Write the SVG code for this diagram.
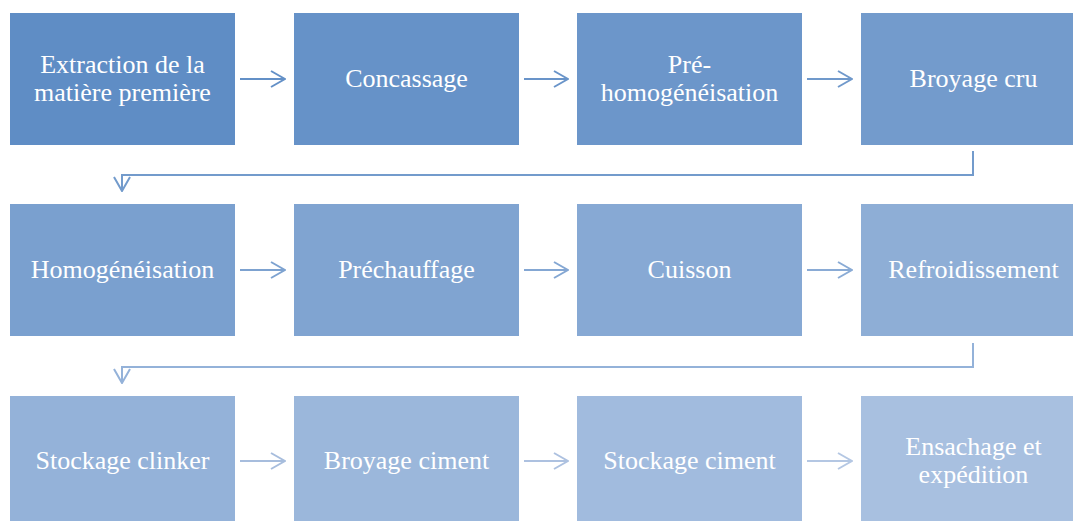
<svg xmlns="http://www.w3.org/2000/svg" width="1073" height="521" viewBox="0 0 1073 521">
<style>
.c{fill:none;stroke-width:2}
</style>
<defs>
<marker id="ah" viewBox="0 0 16 18" refX="15" refY="9" markerWidth="16" markerHeight="18" markerUnits="userSpaceOnUse" orient="auto"><path d="M1,1 L15,9 L1,17" fill="none" stroke="context-stroke" stroke-width="2"/></marker>
</defs>
<rect width="1073" height="521" fill="#fff"/>
<g id="connectors">
<line class="c" x1="240" y1="79" x2="285" y2="79" stroke="#6390C7" marker-end="url(#ah)"/>
<line class="c" x1="524" y1="79" x2="568" y2="79" stroke="#6994C9" marker-end="url(#ah)"/>
<line class="c" x1="807" y1="79" x2="852" y2="79" stroke="#7099CB" marker-end="url(#ah)"/>
<path class="c" d="M973,151 V175 H122 V191" stroke="#739BCC" marker-end="url(#ah)"/>
<line class="c" x1="240" y1="270" x2="285" y2="270" stroke="#7DA2D0" marker-end="url(#ah)"/>
<line class="c" x1="524" y1="270" x2="568" y2="270" stroke="#84A7D3" marker-end="url(#ah)"/>
<line class="c" x1="807" y1="270" x2="852" y2="270" stroke="#8AABD5" marker-end="url(#ah)"/>
<path class="c" d="M973,343 V367 H122 V383" stroke="#94B2D9" marker-end="url(#ah)"/>
<line class="c" x1="240" y1="461" x2="285" y2="461" stroke="#A7BDDD" marker-end="url(#ah)"/>
<line class="c" x1="524" y1="461" x2="568" y2="461" stroke="#ADC1E0" marker-end="url(#ah)"/>
<line class="c" x1="807" y1="461" x2="852" y2="461" stroke="#B4C7E3" marker-end="url(#ah)"/>
</g>
<g font-family="Liberation Serif, DejaVu Serif, serif" font-size="26" fill="#fff" text-anchor="middle">
<g id="n1"><rect x="10" y="13" width="225" height="132" fill="#5F8DC5"/><text x="122.5" y="73">Extraction de la</text><text x="122.5" y="101">matière première</text></g>
<g id="n2"><rect x="294" y="13" width="225" height="132" fill="#6692C8"/><text x="406.5" y="87">Concassage</text></g>
<g id="n3"><rect x="577" y="13" width="225" height="132" fill="#6C96CA"/><text x="689.5" y="73">Pré-</text><text x="689.5" y="101">homogénéisation</text></g>
<g id="n4"><rect x="861" y="13" width="225" height="132" fill="#739BCC"/><text x="973.5" y="87">Broyage cru</text></g>
<g id="n5"><rect x="10" y="204" width="225" height="132" fill="#7AA0CF"/><text x="122.5" y="278">Homogénéisation</text></g>
<g id="n6"><rect x="294" y="204" width="225" height="132" fill="#80A4D1"/><text x="406.5" y="278">Préchauffage</text></g>
<g id="n7"><rect x="577" y="204" width="225" height="132" fill="#87A9D4"/><text x="689.5" y="278">Cuisson</text></g>
<g id="n8"><rect x="861" y="204" width="225" height="132" fill="#8EAED6"/><text x="973.5" y="278">Refroidissement</text></g>
<g id="n9"><rect x="10" y="396" width="225" height="132" fill="#94B2D9"/><text x="122.5" y="469">Stockage clinker</text></g>
<g id="n10"><rect x="294" y="396" width="225" height="132" fill="#9BB7DB"/><text x="406.5" y="469">Broyage ciment</text></g>
<g id="n11"><rect x="577" y="396" width="225" height="132" fill="#A1BBDE"/><text x="689.5" y="469">Stockage ciment</text></g>
<g id="n12"><rect x="861" y="396" width="225" height="132" fill="#A8C0E0"/><text x="973.5" y="455">Ensachage et</text><text x="973.5" y="483">expédition</text></g>
</g>
</svg>
